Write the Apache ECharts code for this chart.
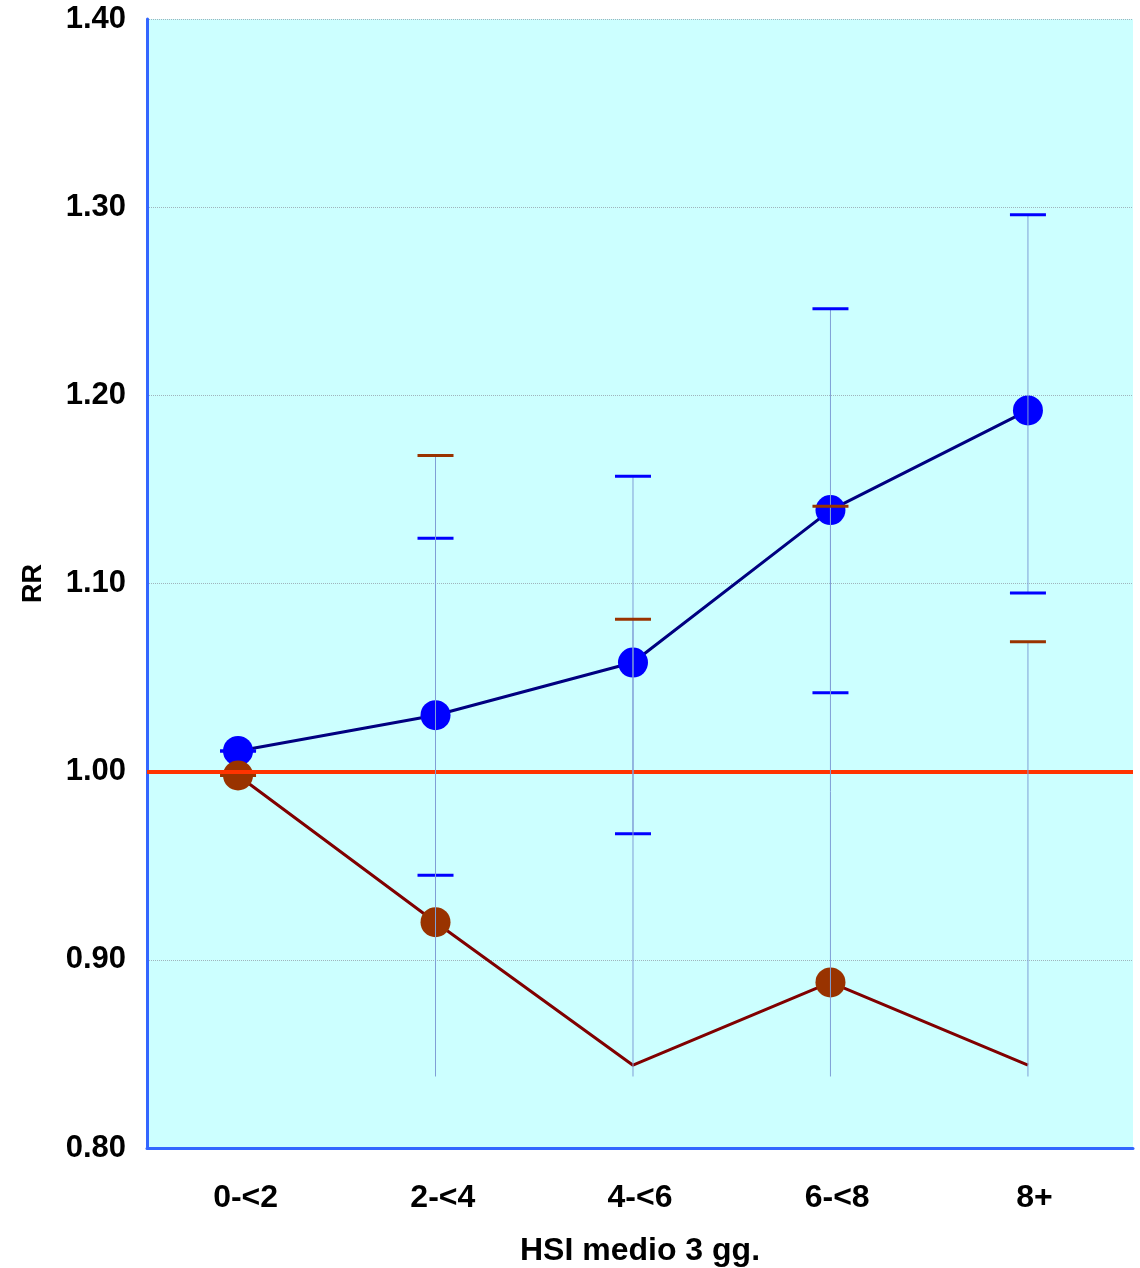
<!DOCTYPE html>
<html>
<head>
<meta charset="utf-8">
<script src="https://cdn.jsdelivr.net/npm/echarts@6/dist/echarts.min.js"></script>
<style>
  html, body { margin: 0; padding: 0; background: #ffffff; }
  #pie7 { width: 1140px; height: 1268px; }
</style>
</head>
<body>
<div id="pie7"></div>
<script>
// classi HSI
var categories = ['0-<2', '2-<4', '4-<6', '6-<8', '8+']
// serie blu: RR e intervallo
var blueRR   = [1.011, 1.030, 1.058, 1.139, 1.192]
var blueLow  = [1.011, 0.945, 0.967, 1.042, 1.095]
var blueHigh = [1.011, 1.124, 1.157, 1.246, 1.296]
// serie marrone: RR e intervallo
var brownRR   = [0.998, 0.920, 0.844, 0.888, 0.844]
var brownLow  = [0.998, 0.838, 0.838, 0.838, 0.838]
var brownHigh = [0.998, 1.168, 1.081, 1.141, 1.069]
var brownMark = [true, true, false, true, false]
// asse y
var yTicks = [0.8, 0.9, 1.0, 1.1, 1.2, 1.3, 1.4]

var fontName = '"Liberation Sans", Arial, sans-serif'

function errBars(color, bothCaps) {
    return function (params, api) {
        var x = api.value(0)
        var top = api.coord([x, api.value(2)])
        var bot = api.coord([x, api.value(1)])
        var kids = [{
            type: 'line',
            shape: { x1: top[0], y1: top[1], x2: bot[0], y2: bot[1] },
            style: { stroke: '#7f9fd6', lineWidth: 1 }
        }, {
            type: 'line',
            shape: { x1: top[0] - 18, y1: top[1], x2: top[0] + 18, y2: top[1] },
            style: { stroke: color, lineWidth: 3 }
        }]
        if (bothCaps) {
            kids.push({
                type: 'line',
                shape: { x1: bot[0] - 18, y1: bot[1], x2: bot[0] + 18, y2: bot[1] },
                style: { stroke: color, lineWidth: 3 }
            })
        }
        return { type: 'group', children: kids }
    }
}

var blueErr = blueRR.map(function (v, i) { return [i, blueLow[i], blueHigh[i]] })
var brownErr = brownRR.map(function (v, i) { return [i, brownLow[i], brownHigh[i]] })
var blueLine = blueRR.map(function (v, i) { return [i, v] })
var brownLine = brownRR.map(function (v, i) {
    return { value: [i, v], symbol: brownMark[i] ? 'circle' : 'none' }
})

var myCharts = echarts.init(document.getElementById('pie7'))
myCharts.setOption({
    backgroundColor: '#ffffff',
    animation: false,
    textStyle: { fontFamily: fontName },
    grid: {
        left: 147, right: 7, top: 19, bottom: 120,
        outerBoundsMode: 'none',
        show: true, backgroundColor: '#ccffff', borderWidth: 0
    },
    xAxis: [{
        type: 'category',
        data: categories,
        boundaryGap: true,
        axisLine: { lineStyle: { color: '#3366ff', width: 3 } },
        axisTick: { show: false },
        axisLabel: { color: '#000', fontSize: 32, fontWeight: 'bold', margin: 34, fontFamily: fontName },
        name: 'HSI medio 3 gg.',
        nameLocation: 'middle',
        nameGap: 87,
        nameTextStyle: { color: '#000', fontSize: 32, fontWeight: 'bold', fontFamily: fontName }
    }, {
        type: 'value', show: false, min: -0.461, max: 4.532
    }],
    yAxis: {
        type: 'value',
        min: yTicks[0],
        max: yTicks[yTicks.length - 1],
        interval: 0.1,
        axisLine: { show: true, onZero: false, lineStyle: { color: '#3366ff', width: 3 } },
        axisTick: { show: false },
        axisLabel: {
            color: '#000', fontSize: 31, fontWeight: 'bold', margin: 21, fontFamily: fontName,
            formatter: function (v) { return v.toFixed(2) }
        },
        splitLine: { lineStyle: { color: '#a0b4bc', type: 'dotted', width: 1 } },
        name: 'RR',
        nameLocation: 'middle',
        nameGap: 100,
        nameTextStyle: { color: '#000', fontSize: 27, fontWeight: 'bold', fontFamily: fontName }
    },
    series: [{
        name: 'blu',
        type: 'line',
        xAxisIndex: 1,
        data: blueLine,
        symbol: 'circle',
        symbolSize: 30,
        lineStyle: { color: '#000080', width: 3 },
        itemStyle: { color: '#0000ff' },
        z: 3,
        markLine: {
            silent: true,
            symbol: 'none',
            label: { show: false },
            lineStyle: { color: '#ff3300', width: 4, type: 'solid' },
            data: [{ yAxis: 1.0 }]
        }
    }, {
        name: 'marrone',
        type: 'line',
        xAxisIndex: 1,
        data: brownLine,
        symbolSize: 30,
        lineStyle: { color: '#800000', width: 3 },
        itemStyle: { color: '#993300' },
        z: 3
    }, {
        name: 'err blu',
        type: 'custom',
        xAxisIndex: 1,
        renderItem: errBars('#0000ff', true),
        data: blueErr,
        z: 5
    }, {
        name: 'err marrone',
        type: 'custom',
        xAxisIndex: 1,
        renderItem: errBars('#993300', false),
        data: brownErr,
        z: 5
    }]
}, true)
</script>
</body>
</html>
